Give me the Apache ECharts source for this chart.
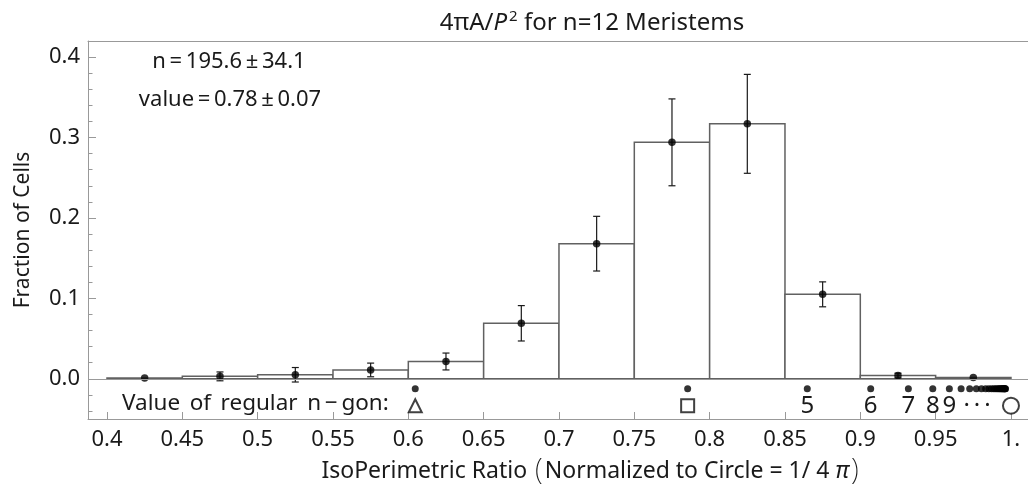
<!DOCTYPE html>
<html>
<head>
<meta charset="utf-8">
<title>IsoPerimetric ratio histogram</title>
<script src="https://cdn.jsdelivr.net/npm/echarts@6/dist/echarts.min.js"></script>
<style>
  html, body { margin: 0; padding: 0; background: #fff; }
  #chart { width: 1028px; height: 499px; }
</style>
</head>
<body>
<div id="chart"></div>
<script>
// histogram bins (left edges), all 0.05 wide
var binStart = [0.40, 0.45, 0.50, 0.55, 0.60, 0.65, 0.70, 0.75, 0.80, 0.85, 0.90, 0.95];
var binWidth = 0.05;
var fraction = [0.001, 0.003, 0.005, 0.011, 0.0215, 0.069, 0.168, 0.294, 0.317, 0.105, 0.004, 0.0015];
var fracErr = [0, 0.0055, 0.009, 0.0085, 0.0105, 0.022, 0.034, 0.054, 0.0615, 0.0155, 0.003, 0];

// isoperimetric ratio of the regular n-gons, n = 3..30
var ngonValue = [0.6046, 0.7854, 0.8648, 0.9069, 0.9319, 0.9481, 0.9591, 0.9669, 0.9726, 0.9770,
  0.9804, 0.9832, 0.9853, 0.9871, 0.9886, 0.9898, 0.9909, 0.9918, 0.9926, 0.9932,
  0.9938, 0.9943, 0.9947, 0.9952, 0.9955, 0.9958, 0.9961, 0.9964];
var ngonDotY = -0.0125;
var ngonLabelY = -0.0335;
var ngonShapeX = [0.6046, 0.7854, 1.0];
var ngonShape = ['emptyTriangle', 'emptyRect', 'emptyCircle'];
var ngonLabelX = [0.8648, 0.9069, 0.9319, 0.9481, 0.9591, 0.9775];
var ngonLabelText = ['5', '6', '7', '8', '9', '\u00b7\u2009\u00b7\u2009\u00b7'];

// axis ticks
var xTickValues = [0.4, 0.45, 0.5, 0.55, 0.6, 0.65, 0.7, 0.75, 0.8, 0.85, 0.9, 0.95, 1.0];
var xTickLabels = ['0.4', '0.45', '0.5', '0.55', '0.6', '0.65', '0.7', '0.75', '0.8', '0.85', '0.9', '0.95', '1.'];
var yTickValues = [0, 0.1, 0.2, 0.3, 0.4];
var yTickLabels = ['0.0', '0.1', '0.2', '0.3', '0.4'];
var yMinorTicks = [-0.04, -0.02, 0.02, 0.04, 0.06, 0.08, 0.12, 0.14, 0.16, 0.18,
  0.22, 0.24, 0.26, 0.28, 0.32, 0.34, 0.36, 0.38];

var font = 'Noto Sans';
var axisGray = '#999';
var ink = '#1a1a1a';
var sp = ' \u2009'; // a slightly wider word gap, like the original typesetting

function lookup(values, labels) {
  return function (v) {
    for (var i = 0; i < values.length; i++) {
      if (Math.abs(values[i] - v) < 1e-6) return labels[i];
    }
    return '';
  };
}

var chart = echarts.init(document.getElementById('chart'));

var barData = binStart.map(function (s, i) { return [s, s + binWidth, fraction[i]]; });
var pointData = binStart.map(function (s, i) { return [s + binWidth / 2, fraction[i]]; });
var errData = [];
binStart.forEach(function (s, i) {
  if (fracErr[i] > 0) errData.push([s + binWidth / 2, fraction[i] - fracErr[i], fraction[i] + fracErr[i]]);
});

var option = {
  animation: false,
  grid: { left: 88, right: 0, top: 41, height: 378, containLabel: false, outerBoundsMode: 'none' },
  xAxis: [{
    type: 'value', min: 0.3874, max: 1.0113, position: 'bottom',
    axisLine: { show: true, onZero: false, lineStyle: { color: axisGray, width: 1 } },
    axisTick: { show: true, inside: true, length: 7, customValues: xTickValues, lineStyle: { color: axisGray } },
    axisLabel: {
      customValues: xTickValues, formatter: lookup(xTickValues, xTickLabels),
      fontFamily: font, fontSize: 22, color: ink, margin: 10
    },
    splitLine: { show: false }
  }, {
    type: 'value', min: 0.3874, max: 1.0113, position: 'top',
    axisLine: { show: true, onZero: false, lineStyle: { color: axisGray, width: 1 } },
    axisTick: { show: false }, axisLabel: { show: false }, splitLine: { show: false }
  }],
  yAxis: [{
    type: 'value', min: -0.05, max: 0.42, position: 'left',
    axisLine: { show: true, onZero: false, lineStyle: { color: axisGray, width: 1 } },
    axisTick: { show: true, inside: true, length: 8, customValues: yTickValues, lineStyle: { color: axisGray } },
    axisLabel: {
      customValues: yTickValues, formatter: lookup(yTickValues, yTickLabels),
      fontFamily: font, fontSize: 22, color: ink, margin: 8
    },
    splitLine: { show: false }
  }, {
    // minor ticks only
    type: 'value', min: -0.05, max: 0.42, position: 'left',
    axisLine: { show: false },
    axisTick: { show: true, inside: true, length: 4.5, customValues: yMinorTicks, lineStyle: { color: axisGray } },
    axisLabel: { show: false }, splitLine: { show: false }
  }],
  series: [{
    type: 'custom', name: 'bins', data: barData,
    renderItem: function (params, api) {
      var p0 = api.coord([api.value(0), api.value(2)]);
      var p1 = api.coord([api.value(1), 0]);
      return {
        type: 'rect',
        shape: { x: p0[0], y: p0[1], width: p1[0] - p0[0], height: p1[1] - p0[1] },
        style: { fill: '#fff', stroke: '#616161', lineWidth: 1.5 }
      };
    }
  }, {
    type: 'scatter', name: 'zero', data: [],
    markLine: {
      silent: true, symbol: ['none', 'none'], label: { show: false },
      lineStyle: { color: axisGray, type: 'solid', width: 1 },
      data: [{ yAxis: 0 }]
    }
  }, {
    type: 'custom', name: 'errors', data: errData, z: 3,
    renderItem: function (params, api) {
      var a = api.coord([api.value(0), api.value(2)]);
      var b = api.coord([api.value(0), api.value(1)]);
      var w = 3.5;
      var st = { stroke: ink, lineWidth: 1.2 };
      return {
        type: 'group',
        children: [
          { type: 'line', shape: { x1: a[0], y1: a[1], x2: b[0], y2: b[1] }, style: st },
          { type: 'line', shape: { x1: a[0] - w, y1: a[1], x2: a[0] + w, y2: a[1] }, style: st },
          { type: 'line', shape: { x1: b[0] - w, y1: b[1], x2: b[0] + w, y2: b[1] }, style: st }
        ]
      };
    }
  }, {
    type: 'scatter', name: 'mean', data: pointData, z: 4,
    symbol: 'circle', symbolSize: 7.5, itemStyle: { color: '#000' }
  }, {
    type: 'scatter', name: 'ngon', z: 4,
    data: ngonValue.map(function (v) { return [v, ngonDotY]; }),
    symbol: 'circle', symbolSize: 7, itemStyle: { color: '#000' }
  }, {
    type: 'scatter', name: 'ngonShape', z: 4,
    data: ngonShapeX.map(function (v, i) {
      return { value: [v, ngonLabelY], symbol: ngonShape[i], symbolSize: i === 2 ? 16 : 13 };
    }),
    itemStyle: { color: '#111', borderColor: '#111', borderWidth: 1 }
  }, {
    type: 'custom', name: 'ngonLabel', z: 4,
    data: ngonLabelX.map(function (v, i) { return [v, ngonLabelY, i]; }),
    renderItem: function (params, api) {
      var p = api.coord([api.value(0), api.value(1)]);
      return {
        type: 'text', x: p[0], y: p[1],
        style: {
          text: ngonLabelText[api.value(2)], fill: ink, fontFamily: font, fontSize: 24,
          align: 'center', verticalAlign: 'middle'
        }
      };
    }
  }],
  graphic: [{
    type: 'text', x: 592, y: 23,
    style: {
      text: '{n|4\u03c0A/}{i|P}{s|2}{n| for n=12 Meristems}',
      align: 'center', verticalAlign: 'middle',
      rich: {
        n: { fontFamily: font, fontSize: 24, fill: ink },
        i: { fontFamily: font, fontSize: 24, fontStyle: 'italic', fill: ink },
        s: { fontFamily: font, fontSize: 15, fill: ink, verticalAlign: 'top', padding: [0, 0, 12, 2] }
      }
    }
  }, {
    type: 'text', x: 23, y: 230, rotation: Math.PI / 2,
    style: { text: 'Fraction of Cells', fontFamily: font, fontSize: 21, fill: ink, align: 'center', verticalAlign: 'middle' }
  }, {
    type: 'text', x: 591, y: 471,
    style: {
      text: 'IsoPerimetric Ratio {p|(}Normalized to Circle = 1/ 4 {i|\u03c0}{p|)}',
      fontFamily: font, fontSize: 23, fill: ink, align: 'center', verticalAlign: 'middle',
      rich: {
        i: { fontFamily: font, fontSize: 23, fontStyle: 'italic', fill: ink },
        p: { fontFamily: font, fontSize: 29, fontWeight: 200, fill: ink, padding: [0, 2, 0, 2] }
      }
    }
  }, {
    type: 'text', x: 229, y: 62,
    style: { text: 'n\u2009=\u2009195.6\u2009\u00b1\u200934.1', fontFamily: font, fontSize: 22, fill: ink, align: 'center', verticalAlign: 'middle' }
  }, {
    type: 'text', x: 230, y: 100,
    style: { text: 'value\u2009=\u20090.78\u2009\u00b1\u20090.07', fontFamily: font, fontSize: 22, fill: ink, align: 'center', verticalAlign: 'middle' }
  }, {
    type: 'text', x: 122, y: 404,
    style: {
      text: 'Value' + sp + 'of' + sp + 'regular' + sp + 'n\u2009\u2212\u2009gon:',
      fontFamily: font, fontSize: 22.5, fill: ink, align: 'left', verticalAlign: 'middle'
    }
  }]
};

chart.setOption(option);
</script>
</body>
</html>
